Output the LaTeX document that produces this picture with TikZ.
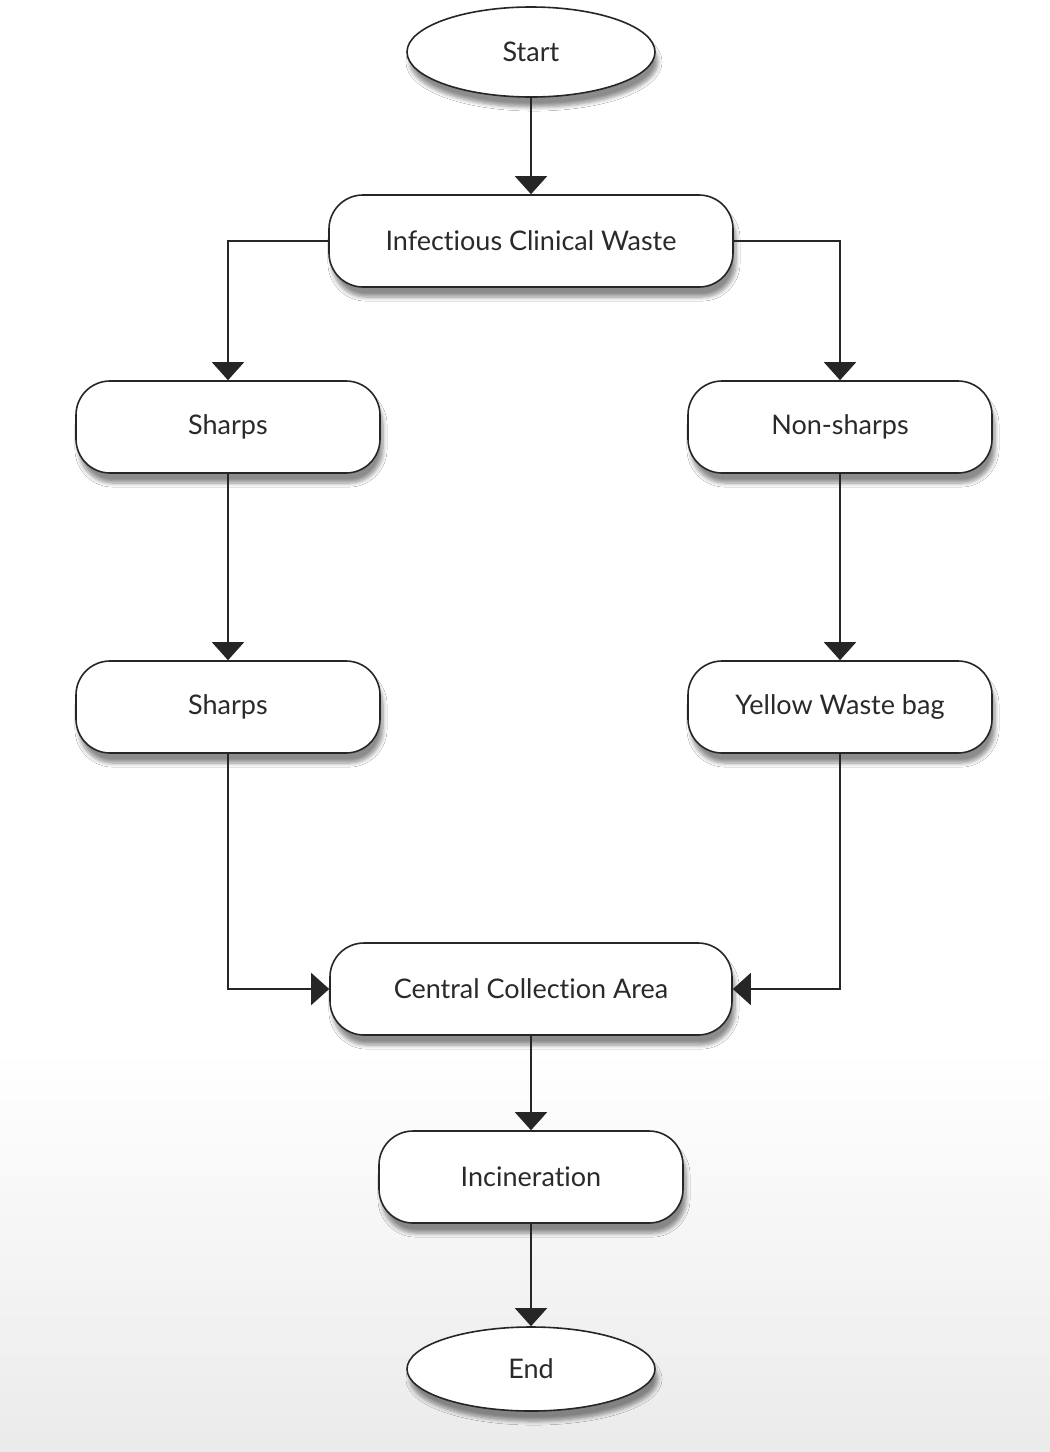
\documentclass[tikz,border=0pt]{standalone}
\usepackage{fontspec}
\setmainfont{Lato}[Ligatures=NoCommon]
\usetikzlibrary{shapes.geometric,arrows.meta,shadows.blur}
\definecolor{txt}{HTML}{2A2A2A}
\tikzset{
  base/.style={draw=black!85, line width=0.8pt, fill=white, text=txt,
    font=\fontsize{13.5}{15}\selectfont,
    blur shadow={shadow xshift=1.5pt, shadow yshift=-5pt, shadow blur steps=6, shadow opacity=45}},
  procbox/.style={base, rectangle, rounded corners=17pt, minimum width=152pt, minimum height=46pt},
  term/.style={base, ellipse, minimum width=124pt, minimum height=45pt, inner sep=0pt},
  arr/.style={draw=black!85, line width=0.8pt, -{Triangle[width=16pt,length=9pt]}}
}
\begin{document}
\begin{tikzpicture}[x=0.5pt,y=-0.5pt]
\useasboundingbox (0,0) rectangle (1050,1452);
\fill[white] (0,0) rectangle (1050,1452);
\shade[top color=white, bottom color=black!8] (0,1050) rectangle (1050,1452);
\node[term] (start) at (531,52) {Start};
\node[procbox, minimum width=202pt] (icw) at (531,241) {Infectious Clinical Waste};
\node[procbox] (sh1) at (228,427) {Sharps};
\node[procbox] (nons) at (840,427) {Non-sharps};
\node[procbox] (sh2) at (228,707) {Sharps};
\node[procbox] (ywb) at (840,707) {Yellow Waste bag};
\node[procbox, minimum width=201pt] (cca) at (531,989) {Central Collection Area};
\node[procbox] (inc) at (531,1177) {Incineration};
\node[term, minimum height=42pt] (end) at (531,1369) {End};
\draw[arr] (start) -- (icw);
\draw[arr] (icw.west) -| (sh1.north);
\draw[arr] (icw.east) -| (nons.north);
\draw[arr] (sh1) -- (sh2);
\draw[arr] (nons) -- (ywb);
\draw[arr] (sh2.south) |- (cca.west);
\draw[arr] (ywb.south) |- (cca.east);
\draw[arr] (cca) -- (inc);
\draw[arr] (inc) -- (end);
\end{tikzpicture}
\end{document}
